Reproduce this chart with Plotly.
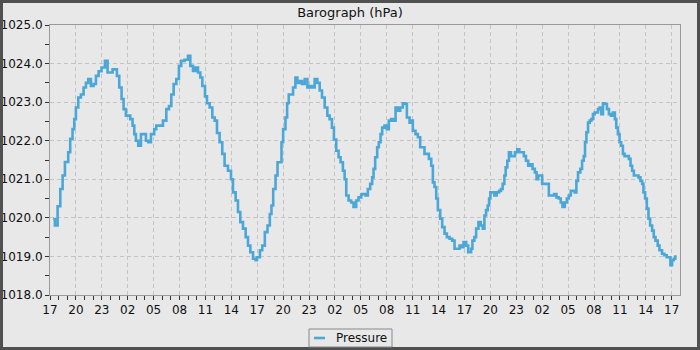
import datetime as dt
import plotly.graph_objects as go

# ---- data (hours after 17:00 on day 1, pressure in hPa) ----
hours = [
    0.37, 0.57, 0.88, 1.19, 1.46, 1.73, 2.11, 2.34, 2.61, 2.81, 3.00, 3.27, 3.58, 3.89, 4.16, 4.43,
    4.74, 5.05, 5.32, 5.63, 5.97, 6.36, 6.67, 6.98, 7.25, 7.52, 7.75, 8.02, 8.29, 8.52, 8.79, 8.98,
    9.29, 9.56, 9.76, 9.95, 10.22, 10.53, 10.84, 11.11, 11.38, 11.69, 12.07,
    12.31, 12.69, 13.08, 13.47, 13.78, 14.05, 14.32, 14.63, 14.93, 15.20, 15.59, 15.98, 16.25,
    16.56, 16.86, 17.14, 17.41, 17.64, 17.95, 18.18, 18.49, 18.80, 19.07, 19.34, 19.64, 19.95,
    20.22, 20.61, 20.96, 21.19, 21.50, 21.77, 22.04, 22.35, 22.66, 22.93, 23.20, 23.51, 23.81, 23.97,
    24.31, 24.58, 24.88, 25.19, 25.46, 25.65, 25.85, 26.12, 26.35, 26.62, 26.81, 27.00, 27.27,
    27.46, 27.65, 27.96, 28.15, 28.42, 28.65, 28.92, 29.19, 29.50, 29.81, 30.08, 30.35, 30.65,
    30.96, 31.23, 31.50, 31.81, 32.12, 32.38, 32.65, 32.88, 33.15, 33.42, 33.65, 33.92, 34.12,
    34.31, 34.58, 34.88, 35.15, 35.46, 35.73, 36.04,
    36.15, 36.54, 36.81, 37.08, 37.31, 37.47, 37.66, 37.89, 38.08, 38.28, 38.47, 38.74, 39.01,
    39.24, 39.51, 39.78, 40.02, 40.29, 40.56, 40.86, 41.14, 41.33, 41.64, 41.83, 42.02, 42.33,
    42.60, 42.87, 43.10, 43.37, 43.64, 43.88, 44.15, 44.34, 44.53, 44.73, 44.92, 45.19, 45.42,
    45.69, 45.96, 46.27, 46.58, 46.85, 47.12, 47.43, 47.62, 47.89, 48.20, 48.43,
    48.54, 48.77, 48.92, 49.15, 49.35, 49.62, 49.88, 50.12, 50.31, 50.50, 50.69, 50.85, 51.00,
    51.15, 51.46, 51.73, 52.00, 52.23, 52.42, 52.62, 52.77, 52.96, 53.15, 53.38, 53.65, 53.85,
    54.12, 54.35, 54.62, 54.88, 55.12, 55.38, 55.65, 55.88, 56.15, 56.35, 56.54, 56.77, 57.00,
    57.31, 57.58, 57.77, 58.08, 58.38, 58.65, 58.92, 59.15, 59.35, 59.62, 59.85, 60.08, 60.31, 60.58,
    60.77, 60.96, 61.15, 61.42, 61.62, 61.81, 61.96, 62.12, 62.31, 62.50, 62.69, 62.88, 63.08,
    63.27, 63.46, 63.65, 63.85, 64.04, 64.27, 64.50, 64.73, 64.96, 65.19, 65.42, 65.58, 65.77,
    65.96, 66.15, 66.35, 66.54, 66.81, 67.04, 67.23, 67.42, 67.62, 67.88, 68.15, 68.38, 68.58,
    68.73, 68.92, 69.12, 69.31, 69.50, 69.73, 69.92, 70.12, 70.38, 70.58, 70.88, 71.15, 71.42,
    71.65, 71.85, 72.04, 72.23, 72.42,
]
pressure = [
    1019.97, 1019.80, 1020.30, 1020.75, 1021.10, 1021.45, 1021.70, 1022.05, 1022.30, 1022.56, 1022.86, 1023.12, 1023.20, 1023.38, 1023.50, 1023.60,
    1023.42, 1023.47, 1023.68, 1023.80, 1023.90, 1024.07, 1023.77, 1023.77, 1023.85, 1023.85, 1023.68, 1023.38, 1023.08, 1022.82, 1022.65, 1022.65,
    1022.56, 1022.39, 1022.17, 1022.00, 1021.87, 1022.17, 1022.17, 1022.00, 1021.96, 1022.17, 1022.30,
    1022.39, 1022.39, 1022.52, 1022.82, 1022.90, 1023.20, 1023.47, 1023.60, 1023.94, 1024.07, 1024.10, 1024.20, 1023.94,
    1023.81, 1023.90, 1023.77, 1023.64, 1023.42, 1023.15, 1022.97, 1022.86, 1022.60, 1022.52, 1022.20, 1021.96, 1021.66,
    1021.35, 1021.22, 1021.00, 1020.66, 1020.45, 1020.15, 1019.89, 1019.72, 1019.50, 1019.28, 1019.11, 1018.94, 1018.90, 1018.98,
    1019.16, 1019.28, 1019.63, 1019.80, 1020.10, 1020.32, 1020.75, 1021.10, 1021.44, 1021.44, 1021.96, 1022.30, 1022.60,
    1022.97, 1023.20, 1023.20, 1023.38, 1023.64, 1023.50, 1023.55, 1023.47, 1023.60, 1023.38, 1023.42, 1023.38, 1023.60,
    1023.50, 1023.30, 1023.12, 1022.86, 1022.65, 1022.56, 1022.34, 1022.03, 1021.74, 1021.57, 1021.44, 1021.22, 1021.00,
    1020.58, 1020.45, 1020.40, 1020.28, 1020.45, 1020.53, 1020.60,
    1020.62, 1020.58, 1020.75, 1020.88, 1021.05, 1021.27, 1021.57, 1021.83, 1021.96, 1022.17, 1022.34, 1022.39, 1022.30,
    1022.52, 1022.56, 1022.52, 1022.86, 1022.78, 1022.86, 1022.97, 1022.95, 1022.60, 1022.47, 1022.52, 1022.26, 1022.17,
    1022.09, 1021.83, 1021.83, 1021.66, 1021.66, 1021.53, 1021.35, 1020.92, 1020.80, 1020.50, 1020.20, 1019.98, 1019.76,
    1019.59, 1019.50, 1019.46, 1019.41, 1019.20, 1019.20, 1019.28, 1019.24, 1019.37, 1019.28, 1019.11,
    1019.11, 1019.20, 1019.41, 1019.50, 1019.72, 1019.89, 1019.80, 1019.72, 1020.06, 1020.20, 1020.32, 1020.50, 1020.66,
    1020.66, 1020.58, 1020.66, 1020.70, 1020.75, 1020.88, 1021.10, 1021.31, 1021.48, 1021.70, 1021.60, 1021.60, 1021.70,
    1021.78, 1021.70, 1021.70, 1021.60, 1021.48, 1021.35, 1021.39, 1021.27, 1021.18, 1021.00, 1021.10, 1021.10, 1020.88,
    1020.88, 1020.88, 1020.58, 1020.58, 1020.62, 1020.53, 1020.50, 1020.40, 1020.28, 1020.40, 1020.50, 1020.58, 1020.70, 1020.70,
    1020.66, 1020.96, 1021.18, 1021.27, 1021.48, 1021.60, 1021.96, 1022.22, 1022.47, 1022.52, 1022.56, 1022.69, 1022.73,
    1022.73, 1022.82, 1022.86, 1022.69, 1022.97, 1022.95, 1022.82, 1022.69, 1022.65, 1022.73, 1022.56, 1022.34, 1022.17,
    1021.96, 1021.87, 1021.66, 1021.60, 1021.60, 1021.53, 1021.35, 1021.22, 1021.10, 1021.10, 1021.05, 1020.96, 1020.88,
    1020.66, 1020.50, 1020.24, 1019.98, 1019.80, 1019.67, 1019.50, 1019.41, 1019.28, 1019.16, 1019.07, 1019.03, 1018.98,
    1018.98, 1018.77, 1018.90, 1018.94, 1019.03,
]
y_ticks = [1018.0, 1019.0, 1020.0, 1021.0, 1022.0, 1023.0, 1024.0, 1025.0]
title_text = "Barograph (hPa)"
series_name = "Pressure"

start = dt.datetime(2024, 3, 1, 17, 0)
times = [start + dt.timedelta(hours=h) for h in hours]
x_end = start + dt.timedelta(hours=72.96)

W, H = 700, 350
L, R, T, B = 50, 20, 25, 55
pw, ph = W - L - R, H - T - B


def px(x):
    return (x - L) / pw


def py(y):
    return (H - B - y) / ph


BG = "#e8e8e8"
LINE = "#4aa7d8"
FONT = "DejaVu Sans"

fig = go.Figure()
fig.add_trace(go.Scatter(
    x=times, y=pressure, mode="lines", name=series_name,
    line=dict(color=LINE, width=2.6, shape="hv"), showlegend=False,
))

axis_common = dict(
    showline=True, linecolor="#999999", linewidth=1, mirror=True, automargin=False,
    ticks="outside", ticklen=4, tickcolor="#333333", tickwidth=1,
    showgrid=True, gridcolor="#c4c4c4", gridwidth=1, griddash="4px,3px",
    zeroline=False, tickfont=dict(family=FONT, size=12, color="#111111"),
)
fig.update_xaxes(
    type="date", range=[start, x_end], tick0=start, dtick=3 * 3600 * 1000,
    tickformat="%H",
    minor=dict(dtick=3600 * 1000, ticks="outside", ticklen=4, tickcolor="#333333", showgrid=False),
    **axis_common,
)
fig.update_yaxes(
    range=[1018, 1025], tickvals=y_ticks, tickformat=".1f",
    minor=dict(dtick=0.5, ticks="outside", ticklen=4, tickcolor="#333333", showgrid=False),
    **axis_common,
)

shapes = [
    # outer frame
    dict(type="rect", xref="paper", yref="paper", x0=px(1.5), x1=px(W - 1.5), y0=py(1.5), y1=py(H - 1.5),
         line=dict(color="#505050", width=3), fillcolor="rgba(0,0,0,0)", layer="above"),
    # legend box
    dict(type="rect", xref="paper", yref="paper", x0=px(309), x1=px(392), y0=py(329), y1=py(347),
         line=dict(color="#888888", width=1), fillcolor=BG),
    dict(type="line", xref="paper", yref="paper", x0=px(314), x1=px(325), y0=py(338), y1=py(338),
         line=dict(color=LINE, width=2.6)),
]
fig.update_layout(
    width=W, height=H,
    margin=dict(l=L, r=R, t=T, b=B, autoexpand=False),
    paper_bgcolor=BG, plot_bgcolor=BG,
    font=dict(family=FONT, size=12, color="#111111"),
    title=dict(text=title_text, x=0.5, xref="container", xanchor="center",
               y=1 - 12 / H, yref="container", yanchor="middle",
               font=dict(family=FONT, size=13, color="#111111")),
    shapes=shapes,
    annotations=[dict(text=series_name, xref="paper", yref="paper", x=px(334), y=py(338),
                      xanchor="left", yanchor="middle", showarrow=False,
                      font=dict(family=FONT, size=12, color="#111111"))],
    showlegend=False,
)

fig.write_html("out.html")
